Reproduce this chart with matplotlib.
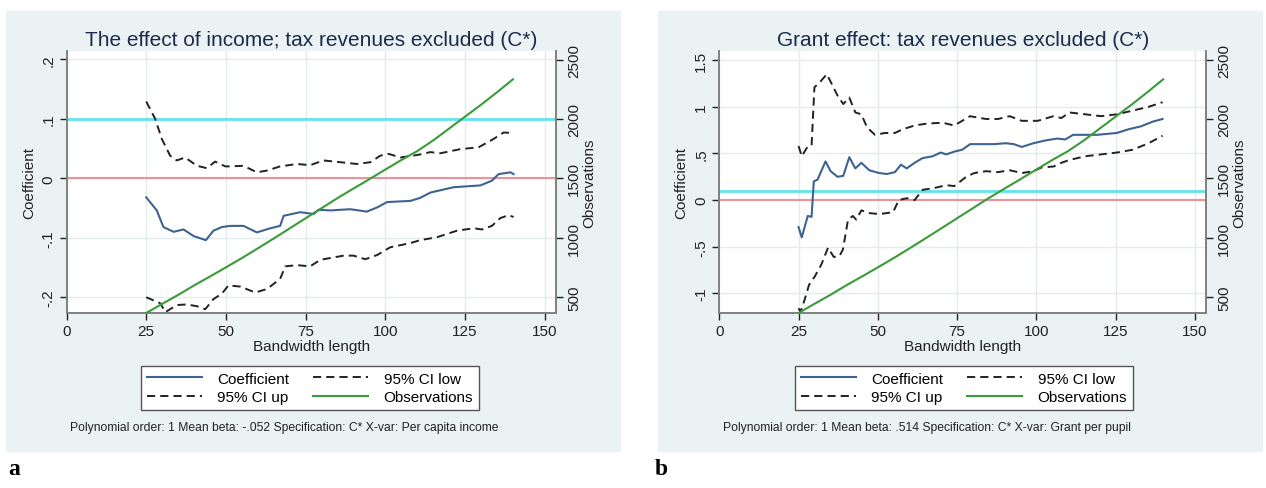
import matplotlib
matplotlib.use('Agg')
import matplotlib.pyplot as plt
from matplotlib.patches import Rectangle
from matplotlib.lines import Line2D

plt.rcParams['font.family'] = ['Liberation Sans', 'DejaVu Sans']

# ---------------- data ----------------
obs_x = [25, 30, 35, 40, 45, 50, 55, 60, 65, 70, 75, 80, 85, 90, 95, 100,
         105, 110, 115, 120, 125, 130, 135, 140]
obs_y = [368, 445, 520, 600, 675, 752, 830, 912, 995, 1080, 1165, 1250, 1335,
         1415, 1494, 1575, 1655, 1730, 1820, 1920, 2020, 2120, 2225, 2334]

# Panel a: income
coef_a_x = [25, 28.3, 30.4, 33.6, 36.7, 39.8, 43.7, 46.1, 48.7, 51.3, 55.5, 59.7,
            63.9, 67.0, 68.1, 73.3, 77.5, 79.0, 82.7, 89.0, 94.2, 97.4, 100.5,
            107.8, 110.9, 114.1, 121.4, 129.8, 133.4, 135.5, 139.2, 140.2]
coef_a_y = [-0.032, -0.054, -0.082, -0.090, -0.086, -0.097, -0.104, -0.088, -0.082,
            -0.080, -0.080, -0.091, -0.084, -0.080, -0.063, -0.057, -0.060, -0.053,
            -0.054, -0.052, -0.056, -0.049, -0.040, -0.038, -0.033, -0.024, -0.015,
            -0.012, -0.004, 0.007, 0.010, 0.007]
up_a_x = [25, 27.8, 29.9, 32.5, 34.6, 37.2, 40.9, 44.0, 46.6, 49.8, 51.3, 55.5,
          59.7, 62.9, 67.0, 72.3, 76.4, 80.6, 85.9, 91.1, 95.3, 98.4, 101.0, 104.7,
          109.9, 114.1, 117.2, 123.5, 129.2, 133.9, 137.1, 139.7]
up_a_y = [0.129, 0.100, 0.066, 0.038, 0.030, 0.035, 0.021, 0.017, 0.028, 0.020,
          0.020, 0.021, 0.010, 0.013, 0.020, 0.024, 0.022, 0.030, 0.027, 0.024,
          0.027, 0.038, 0.041, 0.035, 0.039, 0.044, 0.042, 0.049, 0.052, 0.066,
          0.077, 0.076]
low_a_x = [25, 29.4, 31.0, 34.6, 37.7, 40.9, 43.5, 46.1, 48.7, 50.8, 54.5, 59.2,
           62.9, 67.0, 68.6, 72.3, 76.4, 79.6, 86.9, 90.0, 93.7, 97.4, 101.5, 107.8,
           110.9, 116.2, 122.5, 127.7, 130.3, 133.4, 136.0, 138.6, 140.2]
low_a_y = [-0.200, -0.210, -0.225, -0.213, -0.212, -0.215, -0.220, -0.203, -0.194,
           -0.180, -0.182, -0.192, -0.186, -0.169, -0.148, -0.146, -0.148, -0.137,
           -0.130, -0.130, -0.136, -0.129, -0.116, -0.109, -0.104, -0.099, -0.088,
           -0.084, -0.086, -0.080, -0.067, -0.062, -0.065]

# Panel b: grant
coef_b_x = [25, 26.0, 27.9, 29.1, 29.8, 31.0, 33.5, 35.1, 37.3, 39.1, 41.0, 42.9,
            44.8, 47.3, 50.4, 52.9, 55.4, 57.3, 59.1, 61.6, 64.1, 67.3, 69.8, 71.6,
            74.1, 76.6, 79.1, 82.9, 86.6, 90.4, 92.9, 95.4, 99.1, 102.9, 106.6,
            109.1, 111.6, 115.4, 119.1, 122.3, 125.4, 129.1, 132.9, 136.6, 139.8]
coef_b_y = [-0.29, -0.40, -0.17, -0.18, 0.20, 0.22, 0.415, 0.31, 0.25, 0.26, 0.46,
            0.34, 0.40, 0.32, 0.29, 0.28, 0.30, 0.38, 0.34, 0.40, 0.45, 0.47, 0.51,
            0.49, 0.52, 0.54, 0.60, 0.60, 0.60, 0.61, 0.60, 0.57, 0.61, 0.64, 0.66,
            0.65, 0.70, 0.70, 0.70, 0.71, 0.72, 0.76, 0.79, 0.84, 0.87]
up_b_x = [25, 26.0, 27.6, 29.1, 30.0, 31.6, 33.9, 35.4, 37.3, 39.1, 41.0, 42.9,
          44.8, 46.6, 49.1, 52.3, 55.4, 57.9, 61.6, 65.4, 70.4, 74.1, 79.1, 84.1,
          87.9, 91.6, 95.4, 100.4, 105.4, 107.9, 110.4, 115.4, 120.4, 125.4, 130.4,
          135.4, 139.8]
up_b_y = [0.58, 0.47, 0.56, 0.58, 1.21, 1.26, 1.35, 1.25, 1.12, 1.03, 1.10, 0.94,
          0.92, 0.78, 0.70, 0.72, 0.72, 0.76, 0.80, 0.82, 0.83, 0.80, 0.90, 0.87,
          0.87, 0.90, 0.85, 0.85, 0.90, 0.88, 0.94, 0.92, 0.90, 0.92, 0.96, 1.00, 1.05]
low_b_x = [25, 25.6, 26.9, 28.3, 30.1, 32.2, 34.3, 36.1, 37.9, 39.0, 40.6, 42.1,
           43.2, 44.8, 47.4, 50.5, 54.8, 56.6, 59.1, 61.6, 64.1, 67.9, 71.6, 74.1,
           77.9, 80.4, 84.1, 87.9, 91.6, 95.4, 99.1, 101.6, 105.4, 107.9, 110.4,
           115.4, 120.4, 125.4, 130.4, 135.4, 139.8]
low_b_y = [-1.16, -1.20, -1.07, -0.91, -0.82, -0.69, -0.51, -0.61, -0.60, -0.53,
           -0.21, -0.17, -0.21, -0.11, -0.14, -0.15, -0.13, 0.00, 0.02, 0.00, 0.11,
           0.13, 0.16, 0.15, 0.25, 0.29, 0.31, 0.30, 0.32, 0.29, 0.31, 0.35, 0.36,
           0.40, 0.43, 0.47, 0.49, 0.51, 0.54, 0.61, 0.69]

x_ticks = [0, 25, 50, 75, 100, 125, 150]
obs_ticks = [500, 1000, 1500, 2000, 2500]
yticks_a = [-0.2, -0.1, 0, 0.1, 0.2]
ylabels_a = ['-.2', '-.1', '0', '.1', '.2']
yticks_b = [-1, -0.5, 0, 0.5, 1, 1.5]
ylabels_b = ['-1', '-.5', '0', '.5', '1', '1.5']
ref_zero = 0.0
ref_cyan = 0.1

title_a = 'The effect of income; tax revenues excluded (C*)'
title_b = 'Grant effect: tax revenues excluded (C*)'
note_a = 'Polynomial order: 1 Mean beta: -.052 Specification: C* X-var: Per capita income'
note_b = 'Polynomial order: 1 Mean beta: .514 Specification: C* X-var: Grant per pupil'
legend_labels = ['Coefficient', '95% CI up', '95% CI low', 'Observations']

# ---------------- style ----------------
W, H = 1266, 489
C_COEF = '#3f6390'
C_OBS = '#3a9b3a'
C_CI = '#222222'
C_CYAN = '#63e3ec'
C_PINK = '#e8939d'
C_BG = '#eaf2f3'
C_SPINE = '#808080'
C_GRID = '#e3ebed'
DASH = (0, (4.2, 2.6))

fig = plt.figure(figsize=(W / 100, H / 100), dpi=100)


def frect(x0, y0, x1, y1):
    return [x0 / W, 1 - y1 / H, (x1 - x0) / W, (y1 - y0) / H]


for (bx0, bx1) in [(6, 620), (658, 1262)]:
    fig.patches.append(Rectangle((bx0 / W, 1 - 452 / H), (bx1 - bx0) / W, (452 - 12) / H,
                                 transform=fig.transFigure, color=C_BG, zorder=-5))


def panel(x0, x1, ylim, yticks, ylabels, title, note, cx, data):
    ax = fig.add_axes(frect(x0, 52, x1, 314))
    ax.set_facecolor('white')
    ax.set_xlim(0, 153.5)
    ax.set_ylim(*ylim)
    ax.set_xticks(x_ticks)
    ax.set_xticklabels([str(t) for t in x_ticks], fontsize=11)
    ax.set_yticks(yticks)
    ax.set_yticklabels(ylabels, rotation=90, va='center', fontsize=11)
    ax.grid(True, color=C_GRID, lw=1)
    ax.set_axisbelow(True)
    for s in ['left', 'bottom', 'right']:
        ax.spines[s].set_color(C_SPINE)
        ax.spines[s].set_linewidth(1.2)
    ax.spines['top'].set_visible(False)
    ax.tick_params(length=5, width=1, pad=3, colors='#222222')
    for t in ax.get_xticklines() + ax.get_yticklines():
        t.set_color(C_SPINE)
    ax.set_xlabel('Bandwidth length', fontsize=11, labelpad=1, color='#222222')
    ax.set_ylabel('Coefficient', fontsize=11, labelpad=4, color='#222222')
    ax.set_title(title, fontsize=15, color='#1c2a4d', pad=4)

    ax.axhline(ref_cyan, color=C_CYAN, lw=2.0, zorder=2)
    ax.axhline(ref_zero, color=C_PINK, lw=1.5, zorder=2)
    cx_, cy_, ux, uy, lx, ly = data
    ax.plot(cx_, cy_, color=C_COEF, lw=1.5, zorder=3)
    ax.plot(ux, uy, color=C_CI, lw=1.4, linestyle=DASH, zorder=3)
    ax.plot(lx, ly, color=C_CI, lw=1.4, linestyle=DASH, zorder=3)

    ax2 = ax.twinx()
    ax2.set_ylim(368, 2572)
    ax2.set_yticks(obs_ticks)
    ax2.set_yticklabels([str(t) for t in obs_ticks], rotation=90, va='center', fontsize=11)
    ax2.tick_params(length=5, width=1, pad=3, colors='#222222')
    for t in ax2.get_yticklines():
        t.set_color(C_SPINE)
    for s in ['left', 'bottom', 'right']:
        ax2.spines[s].set_color(C_SPINE)
        ax2.spines[s].set_linewidth(1.2)
    ax2.spines['top'].set_visible(False)
    ax2.set_ylabel('Observations', fontsize=11, labelpad=1, color='#222222')
    ax2.plot(obs_x, obs_y, color=C_OBS, lw=1.5, zorder=3)

    handles = [Line2D([], [], color=C_COEF, lw=1.5),
               Line2D([], [], color=C_CI, lw=1.4, linestyle=DASH),
               Line2D([], [], color=C_CI, lw=1.4, linestyle=DASH),
               Line2D([], [], color=C_OBS, lw=1.5)]
    leg = ax2.legend(handles, legend_labels, ncol=2, loc='center',
                     bbox_to_anchor=(cx / W, 1 - 389 / H), bbox_transform=fig.transFigure,
                     frameon=True, fancybox=False, framealpha=1, edgecolor='#555555',
                     fontsize=11, handlelength=3.6, handletextpad=1.0,
                     columnspacing=1.6, borderpad=0.35, labelspacing=0.3)
    leg.get_frame().set_linewidth(1.0)
    fig.text((x0 + 4) / W, 1 - 428 / H, note, fontsize=8.7, ha='left', va='center',
             color='#222222')
    return ax


panel(66.5, 556, (-0.2264, 0.2139), yticks_a, ylabels_a, title_a, note_a, 310,
      (coef_a_x, coef_a_y, up_a_x, up_a_y, low_a_x, low_a_y))
panel(719.3, 1206, (-1.211, 1.599), yticks_b, ylabels_b, title_b, note_b, 964,
      (coef_b_x, coef_b_y, up_b_x, up_b_y, low_b_x, low_b_y))

fig.text(8 / W, 1 - 470 / H, 'a', fontsize=17, fontweight='bold',
         family=['Liberation Serif', 'DejaVu Serif'], ha='left', va='center')
fig.text(655 / W, 1 - 470 / H, 'b', fontsize=17, fontweight='bold',
         family=['Liberation Serif', 'DejaVu Serif'], ha='left', va='center')

fig.savefig('out.png', dpi=100)
